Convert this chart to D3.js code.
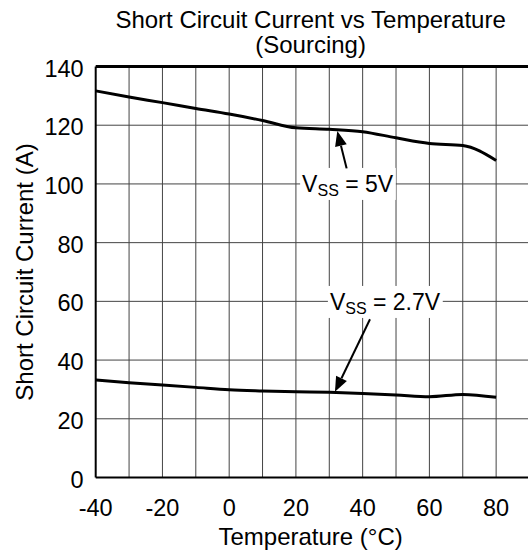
<!DOCTYPE html>
<html>
<head>
<meta charset="utf-8">
<script src="https://cdn.jsdelivr.net/npm/d3@7"></script>
<style>
  html, body { margin: 0; padding: 0; background: #fff; }
  svg { display: block; font-family: "Liberation Sans", Arial, sans-serif; }
</style>
</head>
<body>
<svg id="chart"></svg>
<script>
// temperatures (°C) sampled along both curves
const temps = [-40, -30, -20, -10, 0, 10, 20, 30, 40, 50, 60, 70, 80];
// short circuit current (A)
const vss5 = [131.7, 129.6, 127.7, 125.7, 123.8, 121.6, 119.1, 118.6, 117.8, 115.7, 113.8, 113.1, 108.0];
const vss27 = [33.2, 32.3, 31.5, 30.7, 29.9, 29.5, 29.2, 29.0, 28.6, 28.1, 27.5, 28.3, 27.3];
const xTickLabels = [-40, -20, 0, 20, 40, 60, 80];
const yTickLabels = [0, 20, 40, 60, 80, 100, 120, 140];
// label text and where it / its arrow point (data units)
const annLabels = [
  { sub: 'SS', rest: ' = 5V', at: [35.5, 100], from: [35.2, 105.3], to: [32.4, 118] },
  { sub: 'SS', rest: ' = 2.7V', at: [46.7, 59.8], from: [42.2, 53.9], to: [31.7, 29.2] }
];

const width = 528, height = 556;
const margin = { top: 66.5, right: -1.5, bottom: 78.5, left: 95.7 };

const svg = d3.select('#chart')
  .attr('width', width)
  .attr('height', height);

const x = d3.scaleLinear()
  .domain([-40, 90])
  .range([margin.left, width - margin.right]);

const y = d3.scaleLinear()
  .domain([0, 140])
  .range([height - margin.bottom, margin.top]);

// grid
const grid = svg.append('g').attr('stroke', '#444').attr('stroke-width', 1);
grid.selectAll('.vg')
  .data(d3.range(-30, 91, 10))
  .enter()
  .append('line')
  .attr('x1', d => x(d)).attr('x2', d => x(d))
  .attr('y1', y(0)).attr('y2', y(140));
grid.selectAll('.hg')
  .data(d3.range(20, 140, 20))
  .enter()
  .append('line')
  .attr('x1', x(-40)).attr('x2', x(90))
  .attr('y1', d => y(d)).attr('y2', d => y(d));

// frame
svg.append('line')
  .attr('x1', x(-40)).attr('x2', x(90))
  .attr('y1', y(140)).attr('y2', y(140))
  .attr('stroke', '#000').attr('stroke-width', 3);
svg.append('line')
  .attr('x1', x(-40)).attr('x2', x(90))
  .attr('y1', y(0)).attr('y2', y(0))
  .attr('stroke', '#000').attr('stroke-width', 2);
svg.append('line')
  .attr('x1', x(-40)).attr('x2', x(-40))
  .attr('y1', y(0)).attr('y2', y(140))
  .attr('stroke', '#000').attr('stroke-width', 2);

// tick labels
svg.append('g')
  .selectAll('text')
  .data(xTickLabels)
  .enter()
  .append('text')
  .attr('x', d => x(d))
  .attr('y', y(0) + 38)
  .attr('text-anchor', 'middle')
  .attr('font-size', 23.5)
  .text(d => d);

svg.append('g')
  .selectAll('text')
  .data(yTickLabels)
  .enter()
  .append('text')
  .attr('x', x(-40) - 12)
  .attr('y', d => y(d) + 10)
  .attr('text-anchor', 'end')
  .attr('font-size', 23.5)
  .text(d => d);

// titles
const cx = (x(-40) + x(90)) / 2;
svg.append('text')
  .attr('x', cx - 2).attr('y', 28)
  .attr('text-anchor', 'middle').attr('font-size', 24)
  .text('Short Circuit Current vs Temperature');
svg.append('text')
  .attr('x', cx - 2).attr('y', 53)
  .attr('text-anchor', 'middle').attr('font-size', 24)
  .text('(Sourcing)');
svg.append('text')
  .attr('x', cx - 2).attr('y', 545)
  .attr('text-anchor', 'middle').attr('font-size', 24)
  .text('Temperature (°C)');
svg.append('text')
  .attr('transform', `translate(33,${(y(0) + y(140)) / 2}) rotate(-90)`)
  .attr('text-anchor', 'middle').attr('font-size', 24)
  .text('Short Circuit Current (A)');

// curves
const line = d3.line()
  .x((d, i) => x(temps[i]))
  .y(d => y(d))
  .curve(d3.curveMonotoneX);

[vss5, vss27].forEach(s => {
  svg.append('path')
    .attr('d', line(s))
    .attr('fill', 'none')
    .attr('stroke', '#000')
    .attr('stroke-width', 3)
    .attr('stroke-linejoin', 'round');
});

// annotations
annLabels.forEach(a => {
  const g = svg.append('g');
  const bg = g.append('rect').attr('fill', '#fff');
  const t = g.append('text')
    .attr('x', x(a.at[0]))
    .attr('y', y(a.at[1]) + 8)
    .attr('text-anchor', 'middle')
    .attr('font-size', 23);
  t.append('tspan').text('V');
  t.append('tspan').attr('font-size', 16).attr('dy', 4).text(a.sub);
  t.append('tspan').attr('dy', -4).text(a.rest);
  const bb = t.node().getBBox();
  bg.attr('x', bb.x - 2).attr('y', y(a.at[1]) - 16)
    .attr('width', bb.width + 4).attr('height', 32);

  const x0 = x(a.from[0]), y0 = y(a.from[1]);
  const x1 = x(a.to[0]), y1 = y(a.to[1]);
  const ang = Math.atan2(y1 - y0, x1 - x0);
  const hl = 15, hw = 6;
  const bx = x1 - hl * Math.cos(ang), by = y1 - hl * Math.sin(ang);
  g.append('line')
    .attr('x1', x0).attr('y1', y0).attr('x2', bx).attr('y2', by)
    .attr('stroke', '#000').attr('stroke-width', 2);
  g.append('path')
    .attr('d', `M${x1},${y1}L${bx - hw * Math.sin(ang)},${by + hw * Math.cos(ang)}L${bx + hw * Math.sin(ang)},${by - hw * Math.cos(ang)}Z`)
    .attr('fill', '#000');
});
</script>
</body>
</html>
